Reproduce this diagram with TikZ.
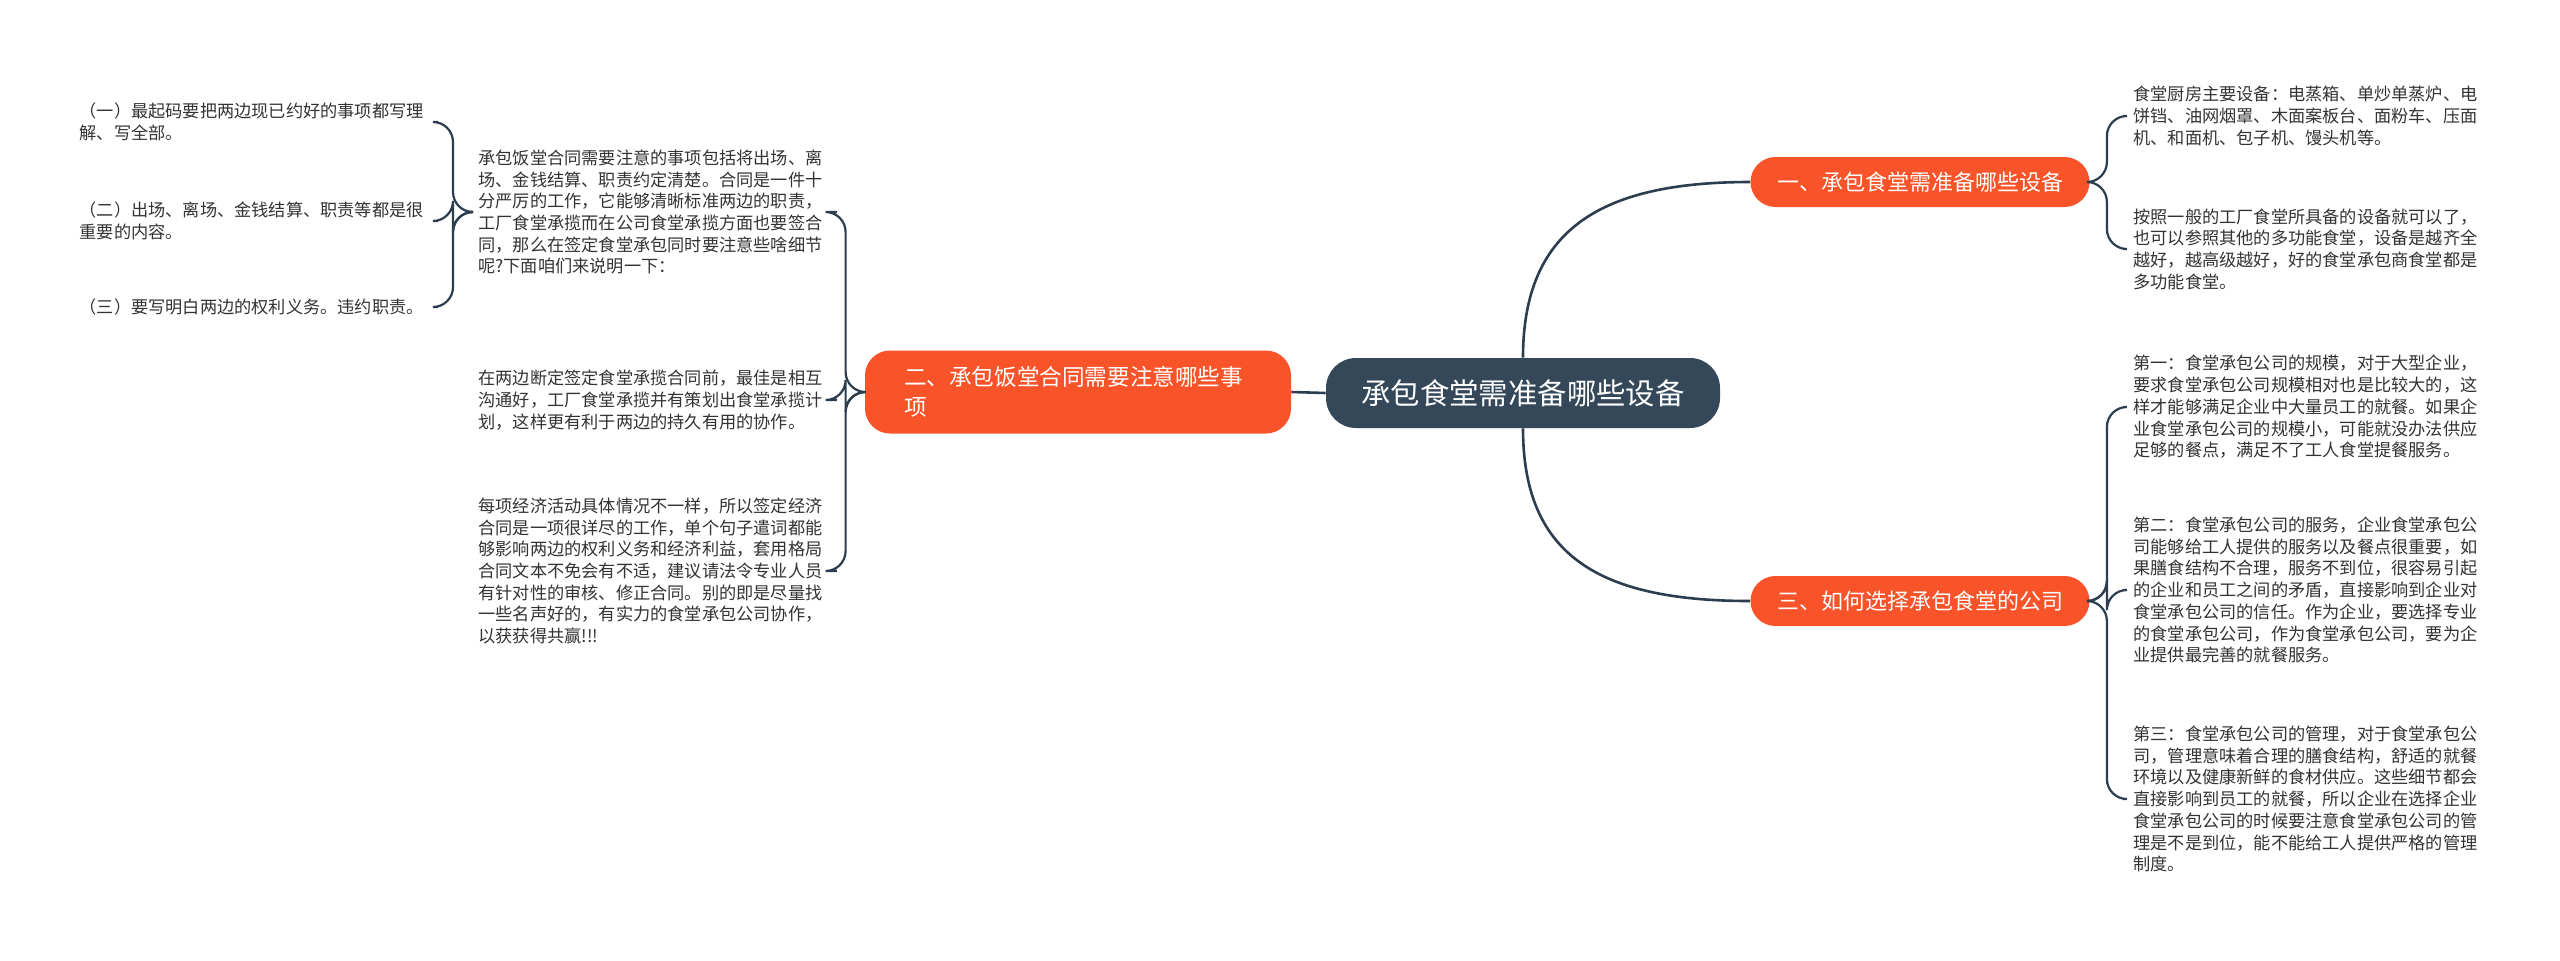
\documentclass[tikz,border=0pt]{standalone}
\usepackage{fontspec}
\setmainfont{Noto Sans CJK SC}
\usepackage{tikz}
\usetikzlibrary{calc}

\definecolor{rootc}{HTML}{34485A}
\definecolor{topicc}{HTML}{F9532A}
\definecolor{linec}{HTML}{2B3D4F}
\definecolor{leafc}{HTML}{333333}

\begin{document}
\begin{tikzpicture}[x=0.5pt,y=-0.5pt,
  root/.style={fill=rootc,text=white,rounded corners=15pt,minimum width=197pt,minimum height=35pt,font=\fontsize{14.7pt}{18pt}\selectfont},
  topic/.style={fill=topicc,text=white,rounded corners=12.5pt,minimum width=169.5pt,minimum height=25pt,font=\fontsize{11pt}{14pt}\selectfont},
  leaf/.style={align=left,inner sep=5pt,text width=174pt,text=leafc,font=\fontsize{8.6pt}{10.85pt}\selectfont},
  limb/.style={draw=linec,line width=1.3pt},
  twig/.style={draw=linec,line width=1.1pt,rounded corners=10pt}]
\fill[white] (0,0) rectangle (2560,960);
\useasboundingbox (0,0) rectangle (2560,960);

% centre and main topics
\node[root] (root) at (1523,393) {承包食堂需准备哪些设备};
\node[topic] (b1) at (1920,182) {一、承包食堂需准备哪些设备};
\node[topic] (b3) at (1920,601) {三、如何选择承包食堂的公司};
\node[topic,align=left,text width=174pt,inner xsep=19.5pt,minimum height=41.5pt,font=\fontsize{11.3pt}{15pt}\selectfont]
  (b2) at (1078,392) {二、承包饭堂合同需要注意哪些事\\项};

%%% right side
\node[leaf,anchor=west] (r1) at (2123,116) {食堂厨房主要设备：电蒸箱、单炒单蒸炉、电\\饼铛、油网烟罩、木面案板台、面粉车、压面\\机、和面机、包子机、馒头机等。};
\node[leaf,anchor=west] (r2) at (2123,249) {按照一般的工厂食堂所具备的设备就可以了，\\也可以参照其他的多功能食堂，设备是越齐全\\越好，越高级越好，好的食堂承包商食堂都是\\多功能食堂。};
\node[leaf,anchor=west] (r3) at (2123,407) {第一：食堂承包公司的规模，对于大型企业，\\要求食堂承包公司规模相对也是比较大的，这\\样才能够满足企业中大量员工的就餐。如果企\\业食堂承包公司的规模小，可能就没办法供应\\足够的餐点，满足不了工人食堂提餐服务。};
\node[leaf,anchor=west] (r4) at (2123,590) {第二：食堂承包公司的服务，企业食堂承包公\\司能够给工人提供的服务以及餐点很重要，如\\果膳食结构不合理，服务不到位，很容易引起\\的企业和员工之间的矛盾，直接影响到企业对\\食堂承包公司的信任。作为企业，要选择专业\\的食堂承包公司，作为食堂承包公司，要为企\\业提供最完善的就餐服务。};
\node[leaf,anchor=west] (r5) at (2123,799) {第三：食堂承包公司的管理，对于食堂承包公\\司，管理意味着合理的膳食结构，舒适的就餐\\环境以及健康新鲜的食材供应。这些细节都会\\直接影响到员工的就餐，所以企业在选择企业\\食堂承包公司的时候要注意食堂承包公司的管\\理是不是到位，能不能给工人提供严格的管理\\制度。};

%%% left side
\node[leaf,anchor=west] (l0) at (468,212) {承包饭堂合同需要注意的事项包括将出场、离\\场、金钱结算、职责约定清楚。合同是一件十\\分严厉的工作，它能够清晰标准两边的职责，\\工厂食堂承揽而在公司食堂承揽方面也要签合\\同，那么在签定食堂承包同时要注意些啥细节\\呢?下面咱们来说明一下：};
\node[leaf,anchor=west] (l1) at (468,400) {在两边断定签定食堂承揽合同前，最佳是相互\\沟通好，工厂食堂承揽并有策划出食堂承揽计\\划，这样更有利于两边的持久有用的协作。};
\node[leaf,anchor=west] (l2) at (468,571) {每项经济活动具体情况不一样，所以签定经济\\合同是一项很详尽的工作，单个句子遣词都能\\够影响两边的权利义务和经济利益，套用格局\\合同文本不免会有不适，建议请法令专业人员\\有针对性的审核、修正合同。别的即是尽量找\\一些名声好的，有实力的食堂承包公司协作，\\以获获得共赢!!!};

% sub items of l0
\node[leaf,anchor=east] (i1) at (438,122) {（一）最起码要把两边现已约好的事项都写理\\解、写全部。};
\node[leaf,anchor=east] (i2) at (438,221) {（二）出场、离场、金钱结算、职责等都是很\\重要的内容。};
\node[leaf,anchor=east] (i3) at (438,307) {（三）要写明白两边的权利义务。违约职责。};

% connectors
\draw[limb] (root.north) .. controls +(0,-128) and +(-150,0) .. (b1.west);
\draw[limb] (root.south) .. controls +(0,128) and +(-150,0) .. (b3.west);
\draw[limb] (root.west) -- (b2.east);

\foreach \c in {r1,r2} \draw[twig] (b1.east) -- ++(17,0) |- (\c.west);
\foreach \c in {r3,r4,r5} \draw[twig] (b3.east) -- ++(17,0) |- (\c.west);
\foreach \c in {l0,l1,l2} \draw[twig] (b2.west) -- ++(-19,0) |- (\c.east);
\foreach \c in {i1,i2,i3} \draw[twig] (l0.west) -- ++(-15,0) |- (\c.east);
\end{tikzpicture}
\end{document}
